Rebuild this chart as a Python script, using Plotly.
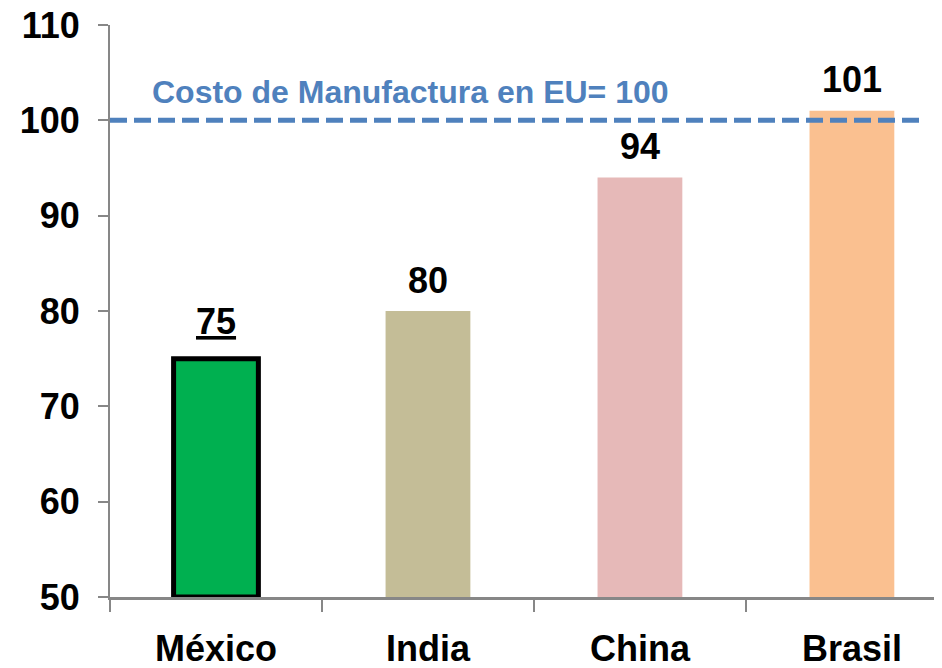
import plotly.graph_objects as go

# Datos del grafico
paises = ["México", "India", "China", "Brasil"]
costos = [75, 80, 94, 101]
colores = ["#00B050", "#C4BD97", "#E6B9B8", "#FAC090"]
etiquetas = ["<u>75</u>", "80", "94", "101"]
base_eje = 50
costo_eu = 100
texto_eu = "Costo de Manufactura en EU= 100"

fuente = "Liberation Sans, Arial, sans-serif"
gris = "#878787"
azul = "#4F81BD"

fig = go.Figure()
# las barras empiezan en la base del eje (50)
fig.add_trace(go.Bar(
    x=paises, y=[c - base_eje for c in costos], base=base_eje, width=0.4,
    marker_color=colores,
    marker_line_color=["black", "rgba(0,0,0,0)", "rgba(0,0,0,0)", "rgba(0,0,0,0)"],
    marker_line_width=[5, 0, 0, 0],
    showlegend=False,
))

# Etiquetas de valor sobre cada barra
for i, (p, c, t) in enumerate(zip(paises, costos, etiquetas)):
    fig.add_annotation(x=p, y=c, text=t, showarrow=False,
                       yanchor="middle", yshift=37 if i == 0 else 31,
                       font=dict(family=fuente, size=36, color="black", weight="bold"))

# Linea de referencia EU
fig.add_shape(type="line", xref="x", yref="y", x0=-0.5, x1=3.33,
              y0=costo_eu, y1=costo_eu,
              line=dict(color=azul, width=5, dash="17px,7px"))
fig.add_annotation(x=-0.5, y=costo_eu + 3, xref="x", yref="y", text=texto_eu,
                   showarrow=False, xanchor="left", xshift=40, yanchor="middle",
                   font=dict(family=fuente, size=32, color=azul, weight="bold"))

# el body de la pagina tiene 8px de margen, se compensa aqui
fig.update_layout(
    width=942, height=668,
    margin=dict(l=102, r=8, t=17, b=79),
    plot_bgcolor="white", paper_bgcolor="white",
    font=dict(family=fuente, size=36, color="black", weight="bold"),
)
fig.update_xaxes(
    range=[-0.5, 3.425], showline=True, linecolor=gris, linewidth=3,
    ticks="outside", tickson="boundaries", ticklen=12, tickwidth=2, tickcolor=gris,
    ticklabelstandoff=18, showgrid=False, zeroline=False, automargin=False,
)
fig.update_yaxes(
    range=[50, 110], dtick=10, tick0=50, showline=True, linecolor=gris, linewidth=2,
    ticks="outside", ticklen=10, tickwidth=2, tickcolor=gris,
    ticklabelstandoff=11, showgrid=False, zeroline=False, automargin=False,
    ticklabeloverflow="allow",
)

fig.write_html("out.html")
